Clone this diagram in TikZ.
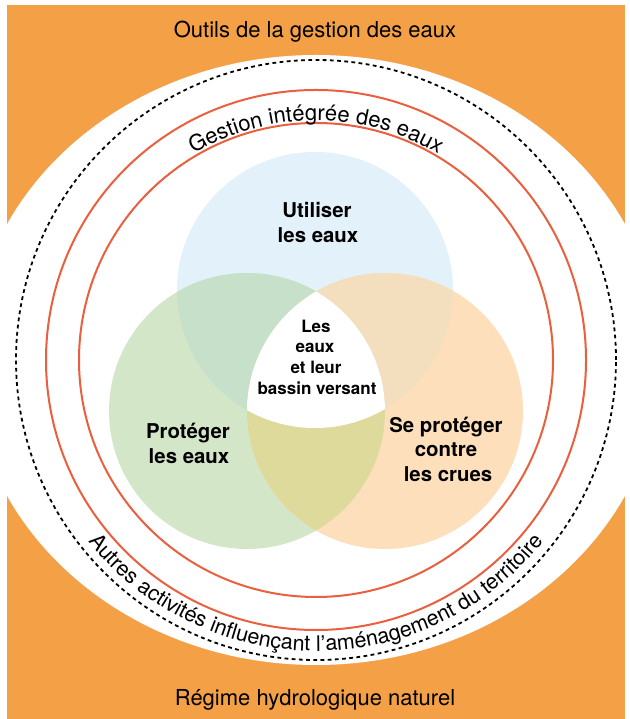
\documentclass[tikz,border=0pt]{standalone}
\usepackage{fontspec}
\setmainfont{TeX Gyre Heros}
\usetikzlibrary{decorations.text}
\definecolor{bgorange}{RGB}{244,160,70}
\definecolor{ringred}{RGB}{234,96,62}
\definecolor{cblue}{RGB}{227,241,251}
\definecolor{cgreen}{RGB}{212,230,200}
\definecolor{corange}{RGB}{253,223,188}
\definecolor{cbg}{RGB}{198,224,201}
\definecolor{cbo}{RGB}{243,223,190}
\definecolor{cgo}{RGB}{222,218,155}
\begin{document}
\begin{tikzpicture}[x=1pt,y=1pt,
  ringline/.style={draw=ringred, line width=2pt},
  dashline/.style={draw=black, line width=1.8pt, dash pattern=on 3.8pt off 3.4pt},
  outertext/.style={font=\fontsize{22}{26}\selectfont, anchor=base, inner sep=0pt},
  vlabel/.style={font=\fontsize{20.4}{24}\selectfont\bfseries, anchor=base, inner sep=0pt},
  clabel/.style={font=\fontsize{17}{21}\selectfont\bfseries, anchor=base, inner sep=0pt}]
\useasboundingbox (0,0) rectangle (629,719);
\clip (0,0) rectangle (629,719);
% background
\fill[bgorange] (7,0) rectangle (625,714);
\fill[white] (316,359) ellipse [x radius=345, y radius=305];
% rings
\draw[dashline] (316,359) circle[radius=300];
\draw[ringline] (316,359) circle[radius=270];
% Venn circles
\fill[cblue] (315,429) circle[radius=138];
\fill[cgreen] (247,308) circle[radius=138];
\fill[corange] (385,308) circle[radius=138];
\begin{scope}
  \clip (315,429) circle[radius=138];
  \fill[cbg] (247,308) circle[radius=138];
  \fill[cbo] (385,308) circle[radius=138];
\end{scope}
\begin{scope}
  \clip (247,308) circle[radius=138];
  \fill[cgo] (385,308) circle[radius=138];
\end{scope}
\begin{scope}
  \clip (315,429) circle[radius=138];
  \clip (247,308) circle[radius=138];
  \fill[white] (385,308) circle[radius=138];
\end{scope}
\draw[ringline] (316,359) circle[radius=237];
% curved texts
\path[decorate, decoration={text along path,
  text={|\fontsize{22}{26}\selectfont|Gestion intégrée des eaux},
  text align=center}]
  (316,359) ++(160:239.5) arc[start angle=160, end angle=20, radius=239.5];
\path[decorate, decoration={text along path,
  text={|\fontsize{21.5}{26}\selectfont|Autres activités influençant l’aménagement du territoire},
  text align=center}]
  (316,359) ++(200:291) arc[start angle=200, end angle=340, radius=291];
% outer labels
\node[outertext] (outils) at (315,681) {Outils de la gestion des eaux};
\node[outertext] (regime) at (315,13) {Régime hydrologique naturel};
% Venn labels
\node[vlabel] (use1) at (317,501) {Utiliser};
\node[vlabel] (use2) at (318,476) {les eaux};
\node[vlabel] (prot1) at (188,280) {Protéger};
\node[vlabel] (prot2) at (189,255) {les eaux};
\node[vlabel] (crue1) at (446,286) {Se protéger};
\node[vlabel] (crue2) at (446,262) {contre};
\node[vlabel] (crue3) at (448,237) {les crues};
\node[clabel] (c1) at (316,386) {Les};
\node[clabel] (c2) at (315,366) {eaux};
\node[clabel] (c3) at (316,345) {et leur};
\node[clabel] (c4) at (317,324) {bassin versant};
\end{tikzpicture}
\end{document}
